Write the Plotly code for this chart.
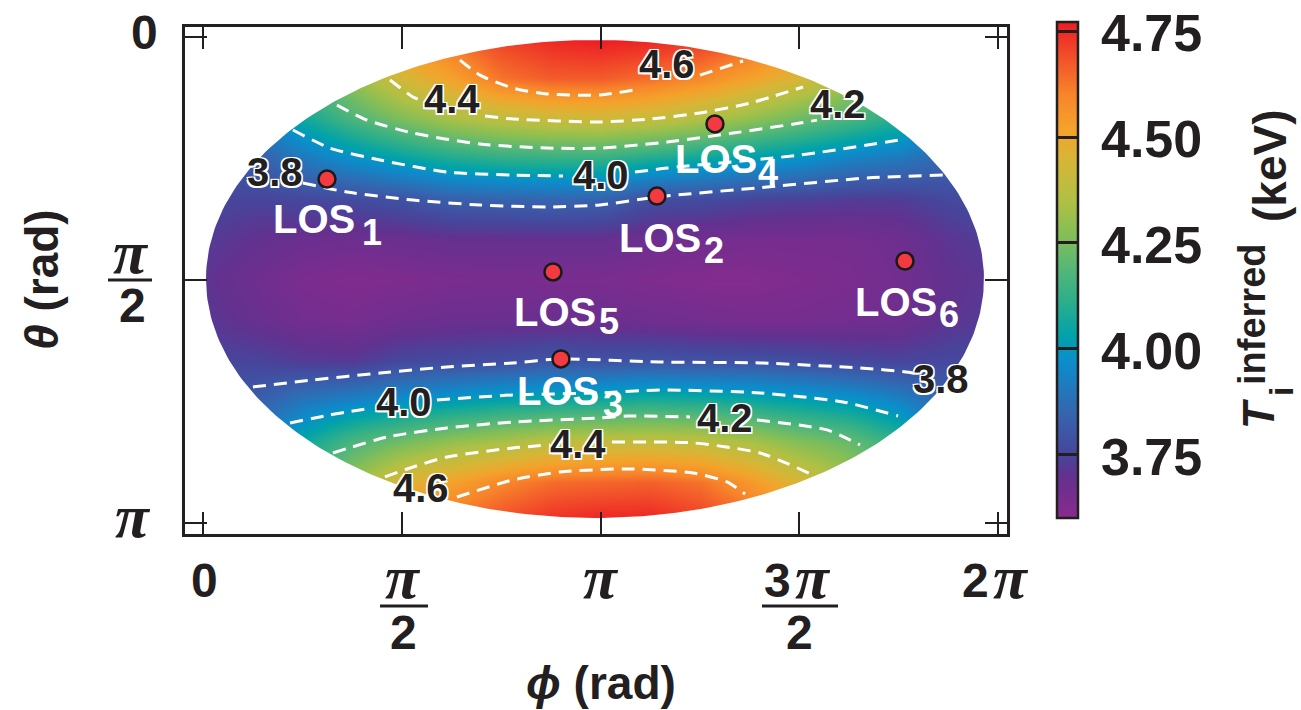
import numpy as np
import plotly.graph_objects as go

PI = np.pi

# ---------------- data ----------------
# grid of inferred ion temperature (keV); rows = theta, columns = phi
phi_over_pi = [0, 0.125, 0.25, 0.375, 0.5, 0.625, 0.75, 0.875, 1.0,
               1.125, 1.25, 1.375, 1.5, 1.625, 1.75, 1.875, 2.0]
theta_over_pi = [0, 1/12, 2/12, 3/12, 4/12, 5/12, 6/12, 7/12, 8/12,
                 9/12, 10/12, 11/12, 1.0]
ti_keV = [
    [3.95, 4.05, 4.25, 4.40, 4.55, 4.65, 4.72, 4.76, 4.78, 4.77, 4.74, 4.68, 4.58, 4.45, 4.30, 4.10, 4.00],
    [3.90, 3.98, 4.17, 4.30, 4.44, 4.52, 4.63, 4.67, 4.67, 4.64, 4.59, 4.52, 4.45, 4.35, 4.22, 4.02, 3.95],
    [3.85, 3.90, 4.06, 4.17, 4.26, 4.34, 4.39, 4.42, 4.43, 4.41, 4.36, 4.30, 4.23, 4.17, 4.10, 3.95, 3.90],
    [3.80, 3.82, 3.90, 3.97, 4.03, 4.08, 4.11, 4.12, 4.12, 4.08, 4.05, 4.01, 3.98, 3.93, 3.90, 3.85, 3.83],
    [3.76, 3.75, 3.76, 3.77, 3.79, 3.83, 3.84, 3.85, 3.84, 3.78, 3.77, 3.75, 3.74, 3.73, 3.73, 3.76, 3.78],
    [3.73, 3.70, 3.68, 3.67, 3.68, 3.69, 3.69, 3.69, 3.69, 3.67, 3.66, 3.65, 3.65, 3.65, 3.67, 3.71, 3.74],
    [3.71, 3.67, 3.64, 3.625, 3.63, 3.64, 3.645, 3.64, 3.64, 3.63, 3.62, 3.62, 3.63, 3.64, 3.66, 3.70, 3.72],
    [3.72, 3.69, 3.66, 3.65, 3.67, 3.68, 3.68, 3.68, 3.68, 3.67, 3.66, 3.65, 3.65, 3.66, 3.67, 3.71, 3.73],
    [3.75, 3.75, 3.73, 3.72, 3.76, 3.77, 3.78, 3.80, 3.79, 3.80, 3.79, 3.79, 3.78, 3.76, 3.75, 3.76, 3.76],
    [3.80, 3.82, 3.90, 3.94, 3.98, 4.01, 4.04, 4.06, 4.07, 4.09, 4.08, 4.06, 4.03, 4.00, 3.94, 3.84, 3.82],
    [3.85, 3.90, 4.05, 4.17, 4.24, 4.30, 4.34, 4.38, 4.40, 4.40, 4.39, 4.34, 4.27, 4.22, 4.12, 3.93, 3.88],
    [3.90, 3.98, 4.15, 4.30, 4.46, 4.52, 4.59, 4.64, 4.65, 4.66, 4.63, 4.55, 4.45, 4.33, 4.20, 4.00, 3.94],
    [3.95, 4.05, 4.25, 4.40, 4.55, 4.65, 4.70, 4.75, 4.77, 4.77, 4.73, 4.66, 4.56, 4.43, 4.28, 4.08, 4.00],
]

contour_lines = {
    "4.6 top": [(2.031, 0.149), (2.189, 0.246), (2.450, 0.330), (2.719, 0.368), (3.138, 0.375),
                (3.398, 0.343), None, (3.928, 0.246), (4.268, 0.155)],
    "4.4 top": [(1.478, 0.278), (1.660, 0.388), (1.715, 0.407), None, (2.229, 0.511), (2.450, 0.530),
                (3.138, 0.549), (3.533, 0.530), (3.928, 0.491), (4.323, 0.427), (4.742, 0.323)],
    "4.2 top": [(1.059, 0.440), (1.296, 0.537), (1.660, 0.621), (2.189, 0.692), (2.719, 0.718),
                (3.138, 0.718), (3.667, 0.679), (4.189, 0.621), (4.718, 0.556), (4.853, 0.537)],
    "4.0 top": [(0.711, 0.601), (1.004, 0.718), (1.399, 0.795), (1.928, 0.873), (2.450, 0.892),
                (2.845, 0.899), None, (3.414, 0.873), (3.667, 0.847), (4.718, 0.763), (5.548, 0.659)],
    "3.8 top": [(0.790, 0.944), (1.138, 1.002), (1.660, 1.054), (2.189, 1.086), (2.719, 1.099),
                (3.138, 1.086), (3.588, 1.034), (4.457, 0.970), (5.248, 0.911), (5.848, 0.892)],
    "3.8 bottom": [(0.395, 2.262), (0.869, 2.217), (1.399, 2.172), (1.928, 2.133), (2.450, 2.107),
                   (2.821, 2.081), (3.612, 2.101), (4.402, 2.107), (5.192, 2.140), (5.611, 2.172),
                   (5.825, 2.237)],
    "4.0 bottom": [(0.688, 2.495), (1.004, 2.443), (1.336, 2.398), None, (1.849, 2.346), (2.450, 2.314),
                   (3.138, 2.301), (3.612, 2.282), (4.402, 2.301), (5.058, 2.359), (5.493, 2.450)],
    "4.2 bottom": [(1.027, 2.689), (1.454, 2.586), (1.928, 2.527), (2.450, 2.489), (3.138, 2.463),
                   (3.351, 2.450), (3.849, 2.456), None, (4.378, 2.476), (4.932, 2.540), (5.192, 2.637)],
    "4.4 bottom": [(1.438, 2.844), (1.636, 2.786), (1.928, 2.715), (2.450, 2.657), (2.742, 2.637), None,
                   (3.232, 2.618), (3.873, 2.624), (4.402, 2.689), (4.821, 2.831)],
    "4.6 bottom": [(2.007, 2.974), (2.450, 2.863), (2.821, 2.812), (3.351, 2.792), (3.873, 2.818),
                   (4.141, 2.876), (4.284, 2.954)],
}

# contour labels: (text, phi, theta)
contour_labels = [("4.6", 3.667, 0.175), ("4.4", 1.968, 0.401), ("4.2", 5.018, 0.433),
                  ("3.8", 0.569, 0.873), ("4.0", 3.146, 0.892), ("3.8", 5.833, 2.211),
                  ("4.0", 1.589, 2.359), ("4.2", 4.126, 2.463), ("4.4", 2.964, 2.631),
                  ("4.6", 1.723, 2.915)]

# lines of sight
los_names = ["1", "2", "3", "4", "5", "6"]
los_phi = [0.980, 3.588, 2.829, 4.046, 2.766, 5.548]
los_theta = [0.918, 1.028, 2.081, 0.562, 1.519, 1.448]

# colour bar
cbar_ticks = [3.75, 4.00, 4.25, 4.50, 4.75]
cbar_ticktext = ["3.75", "4.00", "4.25", "4.50", "4.75"]
zmin, zmax = 3.60, 4.772

# ---------------- geometry helpers (layout only) ----------------
X0_PX, X1_PX, Y0_PX, Y1_PX = 185, 1007, 27, 534      # plot area in pixels
XR = [-0.142, 6.354]
YR = [3.213, -0.065]
CB_TOP, CB_BOT = 22, 518


def px_x(px):
    return (px - X0_PX) / (X1_PX - X0_PX)


def px_y(py):
    return (Y1_PX - py) / (Y1_PX - Y0_PX)


FONT = "Liberation Sans, Arial, sans-serif"
SERIF = "Liberation Serif, Times New Roman, serif"
INK = "#231f20"

v = np.array([3.60, 3.70, 3.75, 3.85, 3.97, 4.03, 4.10, 4.20, 4.27, 4.35, 4.45, 4.52, 4.60, 4.68, 4.772])
cols = ["#8a2a8e", "#62318f", "#47459b", "#3466b0", "#0a8ecb", "#00a2aa", "#26ad8e", "#5cb873",
        "#85be56", "#b0c044", "#d8b536", "#f4a22b", "#f7852a", "#f2552a", "#ec1d24"]
colorscale = [[float((a - zmin) / (zmax - zmin)), c] for a, c in zip(v, cols)]

phi_vals = [p * PI for p in phi_over_pi]
theta_vals = [t * PI for t in theta_over_pi]

fig = go.Figure()
fig.add_trace(go.Heatmap(
    x=phi_vals, y=theta_vals, z=ti_keV, zsmooth="best", colorscale=colorscale,
    zmin=zmin, zmax=zmax, hoverinfo="skip",
    colorbar=dict(x=px_x(1057), xanchor="left", xpad=0, ypad=0,
                  y=px_y((CB_TOP + CB_BOT) / 2), yanchor="middle", len=CB_BOT - CB_TOP, lenmode="pixels",
                  thickness=21, thicknessmode="pixels",
                  outlinewidth=2.5, outlinecolor=INK,
                  tickvals=cbar_ticks, ticks="inside", ticklen=21, tickwidth=2.5, tickcolor=INK,
                  showticklabels=False),
))

# white mask outside the elliptical map boundary (rectangle with an elliptical hole)
cx, cy, ea, eb = 3.098, 1.564, 3.074, 1.545
t = np.linspace(0, 2 * PI, 361)
ex = cx - ea * np.cos(t)
ey = cy + eb * np.sin(t)
mask_x = [-1, -1, 8, 8, -1, -1] + list(ex) + [-1]
mask_y = [cy, -1, -1, 5, 5, cy] + list(ey) + [cy]
fig.add_trace(go.Scatter(x=mask_x, y=mask_y, mode="lines", fill="toself",
                         fillcolor="white", line=dict(width=0, color="white"),
                         hoverinfo="skip", showlegend=False))

for name, pts in contour_lines.items():
    xs = [p[0] if p else None for p in pts]
    ys = [p[1] if p else None for p in pts]
    fig.add_trace(go.Scatter(x=xs, y=ys, mode="lines", hoverinfo="skip", showlegend=False,
                             line=dict(color="white", width=3, dash="13px,8px", shape="spline",
                                       smoothing=0.6)))

fig.add_trace(go.Scatter(x=los_phi, y=los_theta, mode="markers", showlegend=False,
                         marker=dict(size=17, color="#f23a40", line=dict(color="#1a1a1a", width=2.5))))

ann = []


def add_text(text, px, py, size, family=FONT, color=INK, angle=0):
    ann.append(dict(text=text, x=px_x(px), y=px_y(py), xref="paper", yref="paper",
                    showarrow=False, xanchor="center", yanchor="middle", textangle=angle,
                    borderpad=0,
                    font=dict(family=family, size=size, color=color, weight="bold")))


outline = "-1.5px -1.5px 0 #fff, 1.5px -1.5px 0 #fff, -1.5px 1.5px 0 #fff, 1.5px 1.5px 0 #fff"
for txt, ph, th in contour_labels:
    ann.append(dict(text=txt, x=ph, y=th, xref="x", yref="y", showarrow=False,
                    font=dict(family=FONT, size=40, color=INK, weight="bold", shadow=outline)))

# LOS labels (white)
los_label_px = [(314, 219, 372, 233), (660, 238, 714, 250), (558, 391, 613, 404),
                (716, 159, 768, 172), (555, 312, 609, 321), (896, 302, 949, 314)]
for n, (lx, ly, sx, sy) in zip(los_names, los_label_px):
    add_text("LOS", lx, ly, 40, color="white")
    add_text(n, sx, sy, 36, color="white")

# colour-bar tick labels placed at the colour bar's own value scale
for val, txt in zip(cbar_ticks, cbar_ticktext):
    py = CB_TOP + (zmax - val) / (zmax - zmin) * (CB_BOT - CB_TOP)
    ann.append(dict(text=txt, x=px_x(1099), y=px_y(py + 2), xref="paper", yref="paper",
                    showarrow=False, xanchor="left", yanchor="middle",
                    font=dict(family=FONT, size=52, color=INK, weight="bold")))

# x tick labels
add_text("0", 204, 580, 48)
add_text("<i>π</i>", 403, 577, 62, family=SERIF)
add_text("2", 403, 632, 48)
add_text("<i>π</i>", 601, 577, 62, family=SERIF)
add_text("3", 777, 580, 48)
add_text("<i>π</i>", 813, 577, 62, family=SERIF)
add_text("2", 799, 632, 48)
add_text("2", 975, 580, 48)
add_text("<i>π</i>", 1011, 577, 62, family=SERIF)
# y tick labels
add_text("0", 144, 33, 48)
add_text("<i>π</i>", 131, 252, 62, family=SERIF)
add_text("2", 132, 306, 48)
add_text("<i>π</i>", 133, 516, 62, family=SERIF)

# axis titles
add_text("<i>ϕ</i> (rad)", 601, 683, 46)
add_text("<i>θ</i> (rad)", 42, 280, 46, angle=-90)

# colour-bar title
add_text("<i>T</i>", 1258, 414, 44, angle=-90)
add_text("i", 1281, 392, 34, angle=-90)
add_text("inferred", 1252, 315, 38, angle=-90)
add_text("(keV)", 1270, 166, 46, angle=-90)

shapes = []
for (xa, xb, yy) in [(380, 428, 606), (762, 838, 606), (108, 152, 280)]:
    shapes.append(dict(type="line", xref="paper", yref="paper", x0=px_x(xa), x1=px_x(xb),
                       y0=px_y(yy), y1=px_y(yy), line=dict(color=INK, width=3)))

axis_common = dict(ticks="inside", ticklen=22, tickwidth=2, tickcolor=INK, showline=True,
                   linewidth=2.5, linecolor=INK, mirror="ticks", showticklabels=False,
                   showgrid=False, zeroline=False)
fig.update_xaxes(range=XR, tickvals=[0, PI / 2, PI, 3 * PI / 2, 2 * PI], **axis_common)
fig.update_yaxes(range=YR, tickvals=[0, PI / 2, PI], **axis_common)

fig.update_layout(width=1301, height=710, margin=dict(l=X0_PX, r=1301 - X1_PX, t=Y0_PX, b=710 - Y1_PX),
                  paper_bgcolor="white", plot_bgcolor="white", showlegend=False,
                  annotations=ann, shapes=shapes, font=dict(family=FONT, color=INK))

fig.write_html("out.html")
